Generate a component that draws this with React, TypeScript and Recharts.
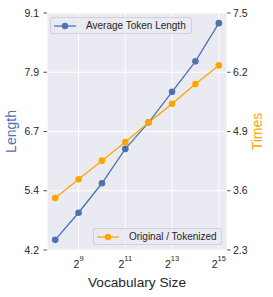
import React from "react";
import { LineChart, Line, XAxis, YAxis, CartesianGrid, Label } from "recharts";

const vocabLog2 = [8, 9, 10, 11, 12, 13, 14, 15];
const avgTokenLength = [4.41, 4.97, 5.58, 6.29, 6.84, 7.47, 8.10, 8.89];
const originalOverTokenized = [3.44, 3.85, 4.26, 4.67, 5.10, 5.51, 5.94, 6.35];

const xTicks = [9, 11, 13, 15];
const leftTicks = [4.2, 5.425, 6.65, 7.875, 9.1];
const leftTickLabels = ["4.2", "5.4", "6.7", "7.9", "9.1"];
const rightTicks = [2.3, 3.6, 4.9, 6.2, 7.5];
const rightTickLabels = ["2.3", "3.6", "4.9", "6.2", "7.5"];

const BLUE = "#4C72B0";
const ORANGE = "#FFA500";
const TEXT = "#262626";
const FONT = "'Liberation Sans', Arial, sans-serif";

const data = vocabLog2.map((x, i) => ({
  x,
  len: avgTokenLength[i],
  ratio: originalOverTokenized[i],
}));

const XTick = (props: any) => {
  const { x, y, payload } = props;
  return (
    <text x={x} y={y + 18} textAnchor="middle" fill={TEXT} fontSize={10.5} fontFamily={FONT}>
      <tspan>2</tspan>
      <tspan dy={-7} fontSize={7.5}>{payload.value}</tspan>
    </text>
  );
};

const LegendBox = ({ left, top, width, color, label }: any) => (
  <div
    style={{
      position: "absolute",
      left,
      top,
      width,
      height: 17,
      boxSizing: "border-box",
      border: "1px solid rgba(204,204,204,0.8)",
      borderRadius: 3,
      background: "rgba(234,234,242,0.8)",
      display: "flex",
      alignItems: "center",
      fontFamily: FONT,
      fontSize: 10,
      color: TEXT,
      whiteSpace: "nowrap",
    }}
  >
    <svg width={22} height={10} style={{ marginLeft: 3, marginRight: 10 }}>
      <line x1={0} y1={5} x2={22} y2={5} stroke={color} strokeWidth={1.3} />
      <circle cx={11} cy={5} r={3.2} fill={color} />
    </svg>
    <span>{label}</span>
  </div>
);

export default function App() {
  return (
    <div style={{ position: "absolute", left: 0, top: 0, width: 273, height: 297, background: "#fff" }}>
      <LineChart
        width={273}
        height={297}
        data={data}
        margin={{ top: 13, right: 0, bottom: 0, left: 0 }}
        style={{ fontFamily: FONT }}
      >
        <CartesianGrid
          yAxisId="left"
          stroke="#ffffff"
          strokeWidth={1}
          fill="#EAEAF2"
          horizontal
          vertical
        />
        <XAxis
          dataKey="x"
          type="number"
          domain={[7.65, 15.35]}
          ticks={xTicks}
          height={47}
          axisLine={false}
          tickLine={false}
          tickSize={0}
          tickMargin={0}
          tick={<XTick />}
          interval={0}
        >
          <Label
            content={(p: any) => {
              const vb = p.viewBox;
              return (
                <text x={vb.x + vb.width / 2} y={287} textAnchor="middle" fill={TEXT} fontSize={13.7} fontFamily={FONT}>
                  Vocabulary Size
                </text>
              );
            }}
          />
        </XAxis>
        <YAxis
          yAxisId="left"
          orientation="left"
          type="number"
          domain={[4.2, 9.1]}
          ticks={leftTicks}
          width={47}
          axisLine={false}
          tickSize={3.5}
          tickMargin={4.5}
          tickLine={{ stroke: TEXT, strokeWidth: 0.8 }}
          tick={{ fill: TEXT, fontSize: 10.5, fontFamily: FONT }}
          tickFormatter={(v: number, i: number) => leftTickLabels[i] ?? String(v)}
          interval={0}
          allowDataOverflow
        >
          <Label
            content={(p: any) => {
              const vb = p.viewBox;
              const cy = vb.y + vb.height / 2;
              return (
                <text
                  x={11}
                  y={cy}
                  transform={`rotate(-90, 11, ${cy})`}
                  textAnchor="middle"
                  dominantBaseline="central"
                  fill={BLUE}
                  fontSize={14}
                  fontFamily={FONT}
                >
                  Length
                </text>
              );
            }}
          />
        </YAxis>
        <YAxis
          yAxisId="right"
          orientation="right"
          type="number"
          domain={[2.3, 7.5]}
          ticks={rightTicks}
          width={46}
          axisLine={false}
          tickSize={3.5}
          tickMargin={2.5}
          tickLine={{ stroke: TEXT, strokeWidth: 0.8 }}
          tick={{ fill: TEXT, fontSize: 10.5, fontFamily: FONT }}
          tickFormatter={(v: number, i: number) => rightTickLabels[i] ?? String(v)}
          interval={0}
          allowDataOverflow
        >
          <Label
            content={(p: any) => {
              const vb = p.viewBox;
              const cy = vb.y + vb.height / 2;
              const cx = 257;
              return (
                <text
                  x={cx}
                  y={cy}
                  transform={`rotate(-90, ${cx}, ${cy})`}
                  textAnchor="middle"
                  dominantBaseline="central"
                  fill={ORANGE}
                  fontSize={14}
                  fontFamily={FONT}
                >
                  Times
                </text>
              );
            }}
          />
        </YAxis>
        <Line
          yAxisId="left"
          dataKey="len"
          stroke={BLUE}
          strokeWidth={1.3}
          dot={{ r: 3.3, fill: BLUE, stroke: "none" }}
          isAnimationActive={false}
        />
        <Line
          yAxisId="right"
          dataKey="ratio"
          stroke={ORANGE}
          strokeWidth={1.3}
          dot={{ r: 3.3, fill: ORANGE, stroke: "none" }}
          isAnimationActive={false}
        />
      </LineChart>
      <LegendBox left={50} top={17} width={142} color={BLUE} label="Average Token Length" />
      <LegendBox left={93} top={228} width={129} color={ORANGE} label="Original / Tokenized" />
    </div>
  );
}
